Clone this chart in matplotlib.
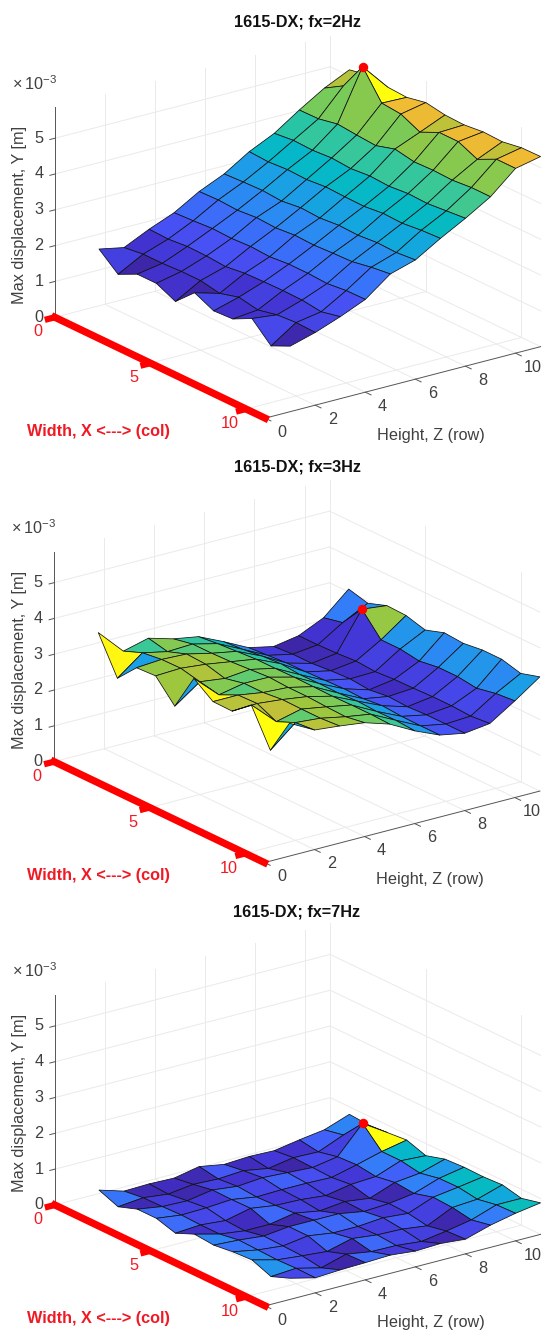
import matplotlib
matplotlib.use('Agg')
import matplotlib.pyplot as plt
import numpy as np
from matplotlib.colors import LinearSegmentedColormap, Normalize
from mpl_toolkits.mplot3d import proj3d

plt.rcParams['font.family'] = ['Liberation Sans', 'DejaVu Sans']
plt.rcParams['mathtext.default'] = 'regular'

W, H = 545, 1331

#--------------------------------------------------------------------
# data: max displacement Y in units of 1e-3 m, one row per height Z
#--------------------------------------------------------------------
col_x = [1, 2, 3, 4, 5, 6, 7, 8, 9, 10, 11]
row_z = [1, 2, 3, 4, 5, 6, 7, 8, 9, 10, 11]

y_2hz = [
    [1.98, 1.53, 1.79, 1.79, 1.54, 2.04, 1.79, 1.82, 2.09, 1.58, 1.83],
    [1.84, 1.91, 1.91, 1.94, 1.94, 1.84, 1.99, 1.89, 2.01, 2.05, 2.03],
    [2.17, 2.15, 2.20, 2.19, 2.15, 2.22, 2.24, 2.25, 2.24, 2.17, 2.29],
    [2.45, 2.48, 2.52, 2.50, 2.53, 2.50, 2.55, 2.55, 2.52, 2.58, 2.59],
    [2.86, 2.88, 2.85, 2.90, 2.87, 2.92, 2.90, 2.93, 2.95, 3.05, 3.12],
    [3.17, 3.20, 3.22, 3.18, 3.25, 3.22, 3.27, 3.25, 3.30, 3.28, 3.33],
    [3.61, 3.58, 3.62, 3.60, 3.65, 3.63, 3.62, 3.68, 3.66, 3.72, 3.75],
    [3.94, 4.00, 3.98, 4.02, 3.98, 4.03, 4.00, 4.05, 4.03, 4.08, 4.13],
    [4.41, 4.42, 4.53, 4.48, 4.44, 4.60, 4.50, 4.52, 4.50, 4.55, 4.55],
    [4.84, 5.16, 5.95, 5.19, 5.14, 4.89, 5.14, 5.14, 4.90, 5.16, 5.16],
    [5.17, 5.28, 5.20, 5.17, 5.28, 5.19, 5.17, 5.23, 5.21, 5.30, 5.31],
]

y_3hz = [
    [3.68, 2.66, 3.21, 3.24, 2.65, 3.68, 3.29, 3.28, 3.71, 2.70, 3.71],
    [2.98, 3.19, 3.26, 3.27, 3.15, 3.04, 3.29, 3.31, 3.06, 3.29, 3.34],
    [3.16, 3.04, 3.23, 3.20, 3.06, 3.18, 3.18, 3.24, 3.23, 3.23, 3.27],
    [2.96, 3.07, 3.07, 3.09, 3.13, 3.17, 3.14, 3.14, 3.11, 3.09, 3.18],
    [2.84, 2.90, 2.94, 2.98, 2.98, 2.99, 2.98, 2.97, 2.98, 2.98, 2.96],
    [2.52, 2.56, 2.63, 2.67, 2.62, 2.63, 2.62, 2.65, 2.62, 2.63, 2.59],
    [2.17, 2.21, 2.25, 2.26, 2.28, 2.30, 2.28, 2.34, 2.30, 2.29, 2.29],
    [2.02, 2.06, 2.06, 2.11, 2.14, 2.09, 2.16, 2.13, 2.16, 2.16, 2.16],
    [2.14, 2.14, 2.16, 2.20, 2.16, 2.20, 2.21, 2.23, 2.23, 2.20, 2.25],
    [2.46, 2.58, 3.21, 2.61, 2.61, 2.53, 2.61, 2.61, 2.54, 2.65, 2.70],
    [3.08, 2.94, 3.13, 3.11, 2.96, 3.14, 3.10, 3.17, 3.17, 3.03, 3.19],
]

y_7hz = [
    [0.49, 0.28, 0.47, 0.47, 0.31, 0.54, 0.49, 0.56, 0.59, 0.38, 0.59],
    [0.28, 0.35, 0.36, 0.38, 0.36, 0.36, 0.45, 0.43, 0.41, 0.43, 0.42],
    [0.30, 0.27, 0.34, 0.40, 0.30, 0.27, 0.38, 0.36, 0.34, 0.26, 0.46],
    [0.28, 0.36, 0.46, 0.45, 0.46, 0.27, 0.46, 0.46, 0.28, 0.46, 0.48],
    [0.42, 0.33, 0.38, 0.34, 0.36, 0.40, 0.46, 0.36, 0.46, 0.35, 0.51],
    [0.30, 0.38, 0.44, 0.36, 0.34, 0.28, 0.46, 0.36, 0.38, 0.34, 0.44],
    [0.34, 0.26, 0.40, 0.36, 0.27, 0.36, 0.34, 0.42, 0.36, 0.27, 0.47],
    [0.32, 0.38, 0.36, 0.34, 0.40, 0.27, 0.38, 0.36, 0.27, 0.38, 0.41],
    [0.44, 0.36, 0.48, 0.51, 0.44, 0.53, 0.48, 0.63, 0.60, 0.51, 0.62],
    [0.54, 0.65, 1.23, 0.70, 0.70, 0.61, 0.72, 0.73, 0.65, 0.75, 0.77],
    [0.79, 0.75, 0.79, 0.84, 0.66, 0.82, 0.85, 0.84, 0.87, 0.75, 0.88],
]

titles = ['1615-DX; fx=2Hz', '1615-DX; fx=3Hz', '1615-DX; fx=7Hz']
panels = [y_2hz, y_3hz, y_7hz]

x_ticks = [0, 5, 10]
z_ticks = [0, 2, 4, 6, 8, 10]
y_ticks = [0, 1, 2, 3, 4, 5]
x_max, z_max, y_max = 11, 11, 5.87

# peak marker (col, row)
peak_x, peak_z = 3, 10

# where each panel sits on the page, in pixels from the top left
origins = [(54.9, 317.3), (54.2, 761.7), (54.9, 1205.0)]
title_xy = [(298, 21.7), (297, 466.7), (297, 911.7)]

# parula as it looks in the picture, blue part stretched
parula = LinearSegmentedColormap.from_list('parula', [
    (0.00, (0.2422, 0.1504, 0.6603)), (0.07, (0.26, 0.20, 0.82)), (0.15, (0.28, 0.32, 0.96)),
    (0.25, (0.21, 0.48, 0.98)), (0.36, (0.13, 0.60, 0.92)), (0.43, (0.02, 0.71, 0.82)),
    (0.50, (0.03, 0.73, 0.75)), (0.56, (0.20, 0.78, 0.62)), (0.63, (0.42, 0.80, 0.39)),
    (0.72, (0.62, 0.78, 0.24)), (0.82, (0.93, 0.73, 0.20)), (0.90, (1.0, 0.80, 0.19)),
    (1.00, (1.0, 1.0, 0.05))])

GRID = '#ece9e9'
AXC = '#555555'
TXT = '#404040'
RED = '#ff0000'
REDTXT = '#f01a24'
FS = 11.7

fig = plt.figure(figsize=(W / 100, H / 100), dpi=100)


def page_text(x, y, s, **kw):
    fig.text(x / W, 1 - y / H, s, ha=kw.pop('ha', 'center'), va=kw.pop('va', 'center'), **kw)


def tick_text(ax, x, y, z, s, color):
    # plain 2D text at the projected place of a data point
    u, v, _ = proj3d.proj_transform(x, y, z, ax.get_proj())
    ax.text2D(u, v, s, transform=ax.transData, color=color, fontsize=FS, ha='center', va='center')


S = 520.0
for i, vals in enumerate(panels):
    ox, oy = origins[i]
    cx = ox + 0.5 * (210.3 + 275.3)
    cy = oy + 0.5 * (100.8 - 71.5) - 0.5 * y_max * 35.8
    frac = 0.95 / 1.85
    ax = fig.add_axes([(cx - frac * S) / W, (H - cy - frac * S) / H, S / W, S / H],
                      projection='3d', proj_type='ortho', computed_zorder=False)
    ax.patch.set_visible(False)
    ax.set_box_aspect((354.9, 341.9, 224.6), zoom=1.0111)
    ax.view_init(elev=20.67, azim=-36.34)
    ax.set_xlim(0, x_max)
    ax.set_ylim(0, z_max)
    ax.set_zlim(0, y_max)
    ax.set_xticks([])
    ax.set_yticks([])
    ax.set_zticks([])
    ax.set_axis_off()

    # walls and floor grid
    for v in y_ticks:
        ax.plot([0, 0], [0, z_max], [v, v], color=GRID, lw=0.7, zorder=1)
        ax.plot([0, x_max], [z_max, z_max], [v, v], color=GRID, lw=0.7, zorder=1)
    for v in z_ticks[1:]:
        ax.plot([0, 0], [v, v], [0, y_max], color=GRID, lw=0.7, zorder=1)
        ax.plot([0, x_max], [v, v], [0, 0], color=GRID, lw=0.7, zorder=1)
    for v in x_ticks[1:]:
        ax.plot([v, v], [z_max, z_max], [0, y_max], color=GRID, lw=0.7, zorder=1)
        ax.plot([v, v], [0, z_max], [0, 0], color=GRID, lw=0.7, zorder=1)
    ax.plot([0, 0], [z_max, z_max], [0, y_max], color=GRID, lw=0.7, zorder=1)

    # the surface, each cell coloured by its lower corner like surf
    Xg, Zg = np.meshgrid(col_x, row_z)
    Yg = np.array(vals)
    norm = Normalize(Yg.min(), Yg.max())
    ax.plot_surface(Xg, Zg, Yg, rcount=11, ccount=11, facecolors=parula(norm(Yg)),
                    shade=False, edgecolor='#111111', linewidth=0.55, zorder=2)

    # peak
    ax.plot([peak_x], [peak_z], [Yg[peak_z - 1, peak_x - 1]], 'o', color=RED, ms=6.8, mec='none', zorder=5)

    # axes
    ax.plot([0, 0], [0, 0], [0, y_max], color=AXC, lw=0.7, zorder=3)
    ax.plot([x_max, x_max], [0, z_max], [0, 0], color=AXC, lw=0.7, zorder=3)
    for v in y_ticks:
        ax.plot([0, 0], [0, -0.2], [v, v], color=AXC, lw=0.7, zorder=3)
        tick_text(ax, 0, -0.64, v + 0.12, str(v), TXT)
    for v in z_ticks:
        ax.plot([x_max, x_max + 0.3], [v, v], [0, 0], color=AXC, lw=0.7, zorder=3)
        tick_text(ax, x_max + 0.89, v, -0.17, str(v), TXT)
    ax.plot([0, x_max], [0, 0], [0, 0], color=RED, lw=5.2, solid_capstyle='projecting', zorder=4)
    for v in x_ticks:
        ax.plot([v, v], [0, -0.4], [0, 0], color=RED, lw=4.5, solid_capstyle='butt', zorder=4)
        tick_text(ax, v, -0.67, -0.29, str(v), REDTXT)

    # labels
    tx, ty = title_xy[i]
    page_text(tx, ty, titles[i], fontsize=FS, fontweight='bold', color='#111111')
    page_text(ox - 35, oy - 102, 'Max displacement, Y [m]', fontsize=FS, color=TXT, rotation=90)
    page_text(ox - 43, oy - 234, r'$\times\,10^{-3}$', fontsize=FS, color=TXT, ha='left')
    page_text(ox + 44, oy + 114, 'Width, X <---> (col)', fontsize=FS, fontweight='bold', color=REDTXT)
    page_text(ox + 376, oy + 118, 'Height, Z (row)', fontsize=FS, color=TXT)

fig.savefig('out.png', dpi=100)
